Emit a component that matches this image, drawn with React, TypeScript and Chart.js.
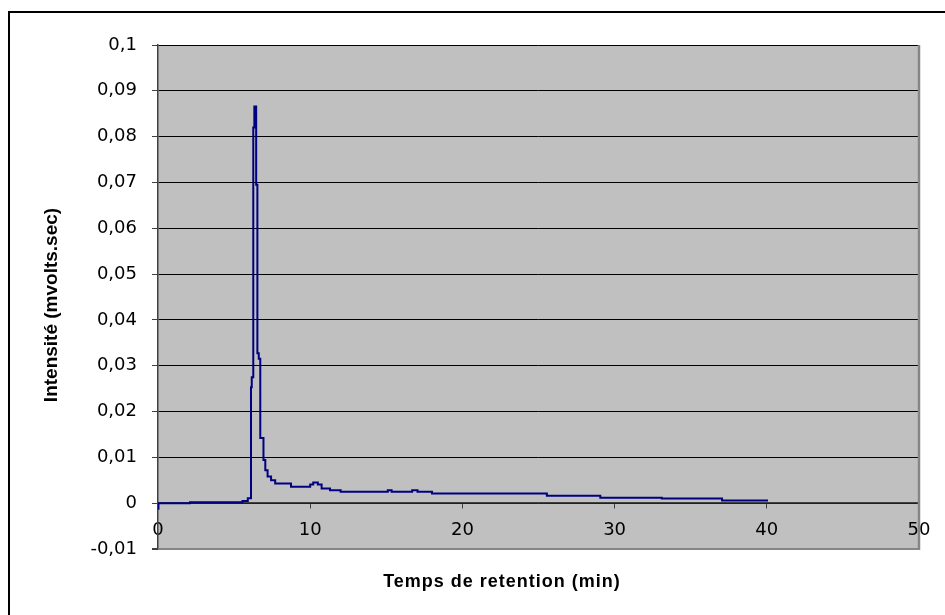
import React, { useEffect, useRef } from "react";
import { Chart, registerables } from "chart.js";

Chart.register(...registerables);

// Retention time (min) where each level of the detector signal starts
const retentionTime = [
  0, 0.03, 2.1, 5.55, 5.9, 6.11, 6.16, 6.26, 6.33, 6.45, 6.53, 6.62, 6.72, 6.93,
  7.05, 7.2, 7.43, 7.7, 8.74, 10.0, 10.2, 10.5, 10.75, 11.3, 12.0, 15.1, 15.35,
  16.7, 17.05, 18.0, 25.55, 29.06, 33.1, 37.06, 40.08,
];
// Intensity (mvolts.sec)
const intensity = [
  -0.0012, 0, 0.0002, 0.0005, 0.0011, 0.0253, 0.0275, 0.082, 0.0866, 0.0695,
  0.0327, 0.0315, 0.0142, 0.0094, 0.0072, 0.0058, 0.005, 0.0043, 0.0036, 0.0041,
  0.0045, 0.0041, 0.0032, 0.0028, 0.0025, 0.0028, 0.0025, 0.0028, 0.0025, 0.0021,
  0.0016, 0.0012, 0.001, 0.0006, 0.0006,
];

const xMin = 0;
const xMax = 50;
const xStep = 10;
const yMin = -0.01;
const yMax = 0.1;
const yStep = 0.01;

const xTitle = "Temps de retention (min)";
const yTitle = "Intensité (mvolts.sec)";

const formatY = (v: number) => {
  const r = Math.round(v * 100) / 100;
  return String(r).replace(".", ",");
};

const decorPlugin = {
  id: "decor",
  beforeDraw(chart: any) {
    const { ctx, chartArea: a } = chart;
    ctx.save();
    ctx.fillStyle = "#ffffff";
    ctx.fillRect(0, 0, chart.width, chart.height);
    ctx.fillStyle = "#C0C0C0";
    ctx.fillRect(a.left, a.top, a.right - a.left, a.bottom - a.top);
    // outer frame (left & top visible)
    ctx.strokeStyle = "#000";
    ctx.lineWidth = 2;
    ctx.beginPath();
    ctx.moveTo(9, chart.height + 5);
    ctx.lineTo(9, 12);
    ctx.lineTo(chart.width + 5, 12);
    ctx.stroke();
    ctx.restore();
  },
  afterDraw(chart: any) {
    const { ctx, chartArea: a } = chart;
    ctx.save();
    // right plot border
    ctx.strokeStyle = "#868686";
    ctx.lineWidth = 2.5;
    ctx.beginPath();
    ctx.moveTo(a.right, a.top);
    ctx.lineTo(a.right, a.bottom + 1);
    ctx.stroke();
    // axis titles
    ctx.fillStyle = "#000";
    ctx.textAlign = "center";
    ctx.textBaseline = "middle";
    ctx.font = 'bold 18px "Liberation Sans", Arial, sans-serif';
    (ctx as any).letterSpacing = "1px";
    ctx.fillText(xTitle, 502, 582);
    (ctx as any).letterSpacing = "0px";
    ctx.translate(52, 305);
    ctx.rotate(-Math.PI / 2);
    ctx.font = 'bold 19px "Liberation Sans", Arial, sans-serif';
    ctx.fillText(yTitle, 0, 0);
    ctx.restore();
  },
};

export default function App() {
  const canvasRef = useRef<HTMLCanvasElement | null>(null);

  useEffect(() => {
    const canvas = canvasRef.current;
    if (!canvas) return;
    const points = retentionTime.map((t, i) => ({ x: t, y: intensity[i] }));
    const chart = new Chart(canvas, {
      type: "line",
      data: {
        datasets: [
          {
            data: points,
            borderColor: "#000080",
            borderWidth: 2,
            pointRadius: 0,
            stepped: true,
            fill: false,
          },
        ],
      },
      options: {
        animation: false,
        responsive: false,
        devicePixelRatio: 1,
        layout: { padding: { left: 0, right: 26, top: 45, bottom: 66 } },
        plugins: {
          legend: { display: false },
          tooltip: { enabled: false },
          title: { display: false },
        },
        scales: {
          x: {
            type: "linear",
            position: { y: 0 } as any,
            min: xMin,
            max: xMax,
            ticks: {
              stepSize: xStep,
              color: "#000",
              padding: 11,
              maxRotation: 0,
              font: { family: '"DejaVu Sans", sans-serif', size: 18 },
            },
            grid: {
              drawOnChartArea: false,
              drawTicks: true,
              tickLength: 5,
              color: "#404040",
            },
            border: { display: true, color: "#404040", width: 1.5 },
            afterFit: (scale: any) => {
              scale.height = 0;
              scale.paddingLeft = 0;
              scale.paddingRight = 0;
            },
          },
          y: {
            type: "linear",
            position: "left",
            min: yMin,
            max: yMax,
            ticks: {
              stepSize: yStep,
              color: "#000",
              padding: 15,
              font: { family: '"DejaVu Sans", sans-serif', size: 18 },
              callback: (v: any) => formatY(Number(v)),
            },
            grid: {
              drawOnChartArea: true,
              drawTicks: true,
              tickLength: 6,
              color: (c: any) =>
                c.tick && Math.abs(c.tick.value - yMin) < 1e-9 ? "#868686" : "#000",
              lineWidth: (c: any) =>
                c.tick && Math.abs(c.tick.value - yMin) < 1e-9 ? 2 : 1,
              tickColor: "#404040",
            },
            border: { display: true, color: "#404040", width: 1.5 },
            afterFit: (scale: any) => {
              scale.width = 158;
              scale.paddingTop = 0;
              scale.paddingBottom = 0;
            },
          },
        },
      },
      plugins: [decorPlugin],
    });
    return () => chart.destroy();
  }, []);

  return (
    <div
      style={{
        position: "fixed",
        left: 0,
        top: 0,
        width: 945,
        height: 615,
        background: "#fff",
      }}
    >
      <canvas ref={canvasRef} width={945} height={615} />
    </div>
  );
}
